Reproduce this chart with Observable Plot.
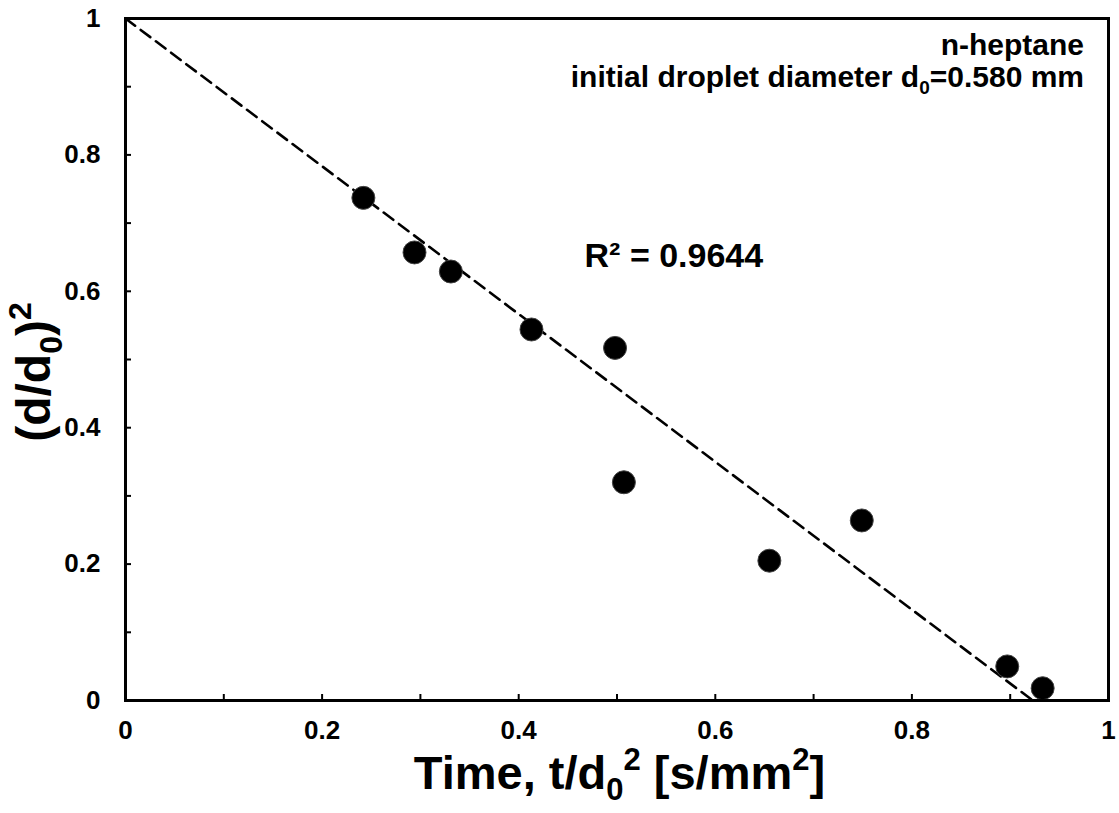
<!DOCTYPE html>
<html>
<head>
<meta charset="utf-8">
<script src="https://cdn.jsdelivr.net/npm/d3@7"></script>
<script src="https://cdn.jsdelivr.net/npm/@observablehq/plot@0.6"></script>
<style>
  body { margin: 0; background: #fff; }
  #chart svg { font-family: "Liberation Sans", Arial, sans-serif; font-weight: bold; }
</style>
</head>
<body>
<div id="chart"></div>
<script>
// Data
const timeValues = [0.242, 0.294, 0.331, 0.413, 0.498, 0.507, 0.655, 0.749, 0.897, 0.933];
const diamSqValues = [0.737, 0.657, 0.629, 0.544, 0.517, 0.320, 0.205, 0.264, 0.050, 0.018];
// Linear trend line (dashed) endpoints
const trendX = [0, 0.923];
const trendY = [1, 0];
const majorTicks = [0, 0.2, 0.4, 0.6, 0.8, 1];
const minorTicks = [0, 0.1, 0.2, 0.3, 0.4, 0.5, 0.6, 0.7, 0.8, 0.9, 1];
const r2Label = "R² = 0.9644";
const r2Pos = [0.467, 0.652];

const points = timeValues.map((t, i) => ({t, v: diamSqValues[i]}));
const trend = trendX.map((t, i) => ({t, v: trendY[i]}));

const W = 1119, H = 813;
const mL = 125, mT = 18, mR = 11, mB = 113;
const plotW = W - mL - mR, plotH = H - mT - mB;
const fmt = d => String(+d.toFixed(1));

const plot = Plot.plot({
  width: W, height: H,
  marginLeft: mL, marginTop: mT, marginRight: mR, marginBottom: mB,
  x: {domain: [0, 1]},
  y: {domain: [0, 1]},
  style: {fontFamily: "Liberation Sans, Arial, sans-serif", fontWeight: "bold", color: "black", background: "white"},
  marks: [
    Plot.axisX(majorTicks, {tickSize: 0, tickPadding: 20, fontSize: 26, tickFormat: fmt, label: null}),
    Plot.axisY(majorTicks, {tickSize: 0, tickPadding: 25, fontSize: 26, tickFormat: fmt, label: null}),
    Plot.tickX(minorTicks, {x: d => d, insetTop: plotH - 6, stroke: "black", strokeWidth: 2}),
    Plot.tickY(minorTicks, {y: d => d, insetRight: plotW - 6, stroke: "black", strokeWidth: 2}),
    Plot.line(trend, {x: "t", y: "v", stroke: "black", strokeWidth: 2.6, strokeDasharray: "12,7"}),
    Plot.dot(points, {x: "t", y: "v", r: 11.5, fill: "black", stroke: "#444", strokeWidth: 1}),
    Plot.text([r2Label], {x: () => r2Pos[0], y: () => r2Pos[1], text: d => d, textAnchor: "start", fontSize: 34, fill: "black"}),
    Plot.frame({stroke: "black", strokeWidth: 3})
  ]
});

document.getElementById("chart").appendChild(plot);

// Rich text (sub/superscripts) appended as real SVG text
const svg = d3.select(plot);
const xs = plot.scale("x");

// Annotation block (top right)
const annoX = xs.apply(1) - 24;
svg.append("text").attr("x", annoX).attr("y", 55).attr("text-anchor", "end")
  .attr("font-size", 30).attr("fill", "black").text("n-heptane");
const l2 = svg.append("text").attr("x", annoX).attr("y", 87).attr("text-anchor", "end")
  .attr("font-size", 30).attr("fill", "black");
l2.append("tspan").text("initial droplet diameter d");
l2.append("tspan").text("0").attr("font-size", 19).attr("dy", 7);
l2.append("tspan").text("=0.580 mm").attr("dy", -7);

// X axis title
const xt = svg.append("text").attr("x", (mL + W - mR) / 2 + 3).attr("y", 789).attr("text-anchor", "middle")
  .attr("font-size", 47).attr("fill", "black");
xt.append("tspan").text("Time, t/d");
xt.append("tspan").text("0").attr("font-size", 31).attr("dy", 11);
xt.append("tspan").text("2").attr("font-size", 31).attr("dy", -30);
xt.append("tspan").text(" [s/mm").attr("dy", 19);
xt.append("tspan").text("2").attr("font-size", 31).attr("dy", -19);
xt.append("tspan").text("]").attr("dy", 19);

// Y axis title
const yt = svg.append("text").attr("transform", `translate(50, 372) rotate(-90)`)
  .attr("text-anchor", "middle").attr("font-size", 48).attr("fill", "black");
yt.append("tspan").text("(d/d");
yt.append("tspan").text("0").attr("font-size", 32).attr("dy", 12);
yt.append("tspan").text(")").attr("dy", -12);
yt.append("tspan").text("2").attr("font-size", 32).attr("dy", -19);
</script>
</body>
</html>
